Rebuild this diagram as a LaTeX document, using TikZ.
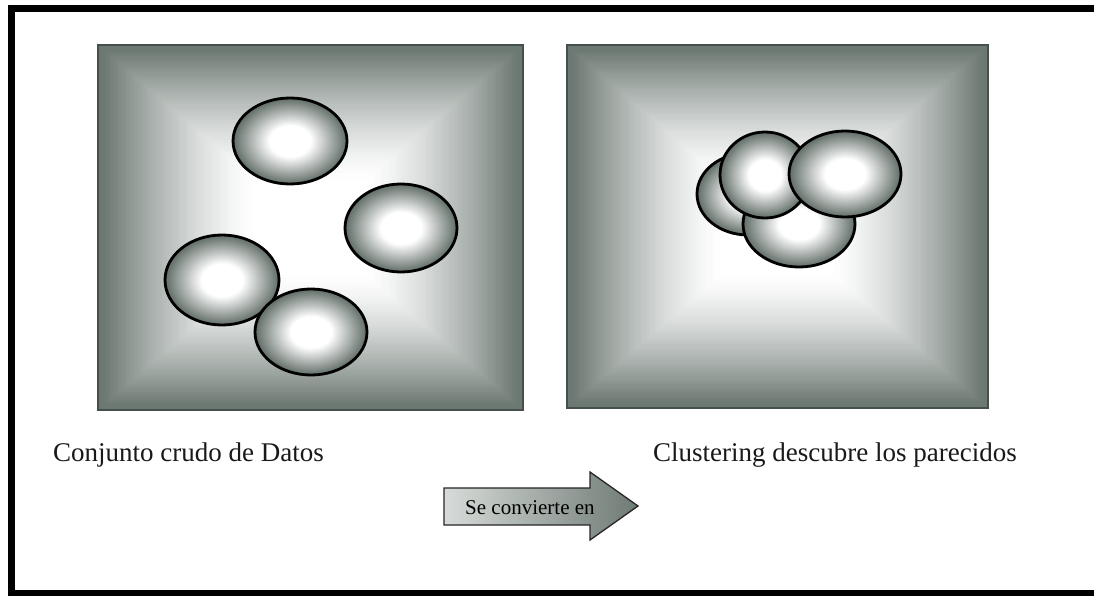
\documentclass[tikz,border=0pt]{standalone}
\usepackage{fontspec}
\setmainfont{Liberation Serif}
\definecolor{panelDark}{RGB}{108,120,114}
\definecolor{panelEdge}{RGB}{70,80,75}
\definecolor{blobDark}{RGB}{96,108,102}
\definecolor{arrowLight}{RGB}{215,220,217}
\definecolor{arrowDark}{RGB}{110,122,116}
\pgfdeclareradialshading{blobshade}{\pgfpoint{0bp}{0bp}}{color(0bp)=(white); color(9bp)=(white); color(25bp)=(blobDark); color(50bp)=(blobDark)}
\tikzset{
  blob/.style={draw=black, line width=2.8, shading=blobshade},
  caption/.style={anchor=base west, font=\fontsize{27}{32}\selectfont, text=black!90, inner sep=0},
  arrowtext/.style={anchor=base west, font=\fontsize{21}{25}\selectfont, text=black, inner sep=0},
  frameline/.style={line width=7, draw=black}
}
\newcommand{\gradpanel}[4]{%
  \foreach \i in {0,...,79}{%
    \pgfmathsetmacro\tt{\i/80}%
    \pgfmathsetmacro\ss{max(0,min(1,(\tt-0.02)/0.72))}%
    \pgfmathsetmacro\pp{100*(1-\ss)^1.4}%
    \pgfmathsetmacro\ddx{\tt*(#3-#1)/2}%
    \pgfmathsetmacro\ddy{\tt*(#4-#2)/2}%
    \fill[panelDark!\pp!white] (#1+\ddx,#2+\ddy) rectangle (#3-\ddx,#4-\ddy);
  }%
  \draw[line width=1.5, panelEdge] (#1,#2) rectangle (#3,#4);
}
\begin{document}
\begin{tikzpicture}[x=1pt,y=-1pt]
\useasboundingbox (0,0) rectangle (1094,596);
\fill[white] (0,0) rectangle (1094,596);
% outer frame (open on the right)
\draw[frameline] (1094,9) -- (11,9) -- (11,593) -- (1094,593);

% left panel
\gradpanel{98}{45}{523}{410}
\draw[blob] (290,141) ellipse [x radius=57, y radius=43];
\draw[blob] (401,228) ellipse [x radius=56, y radius=44];
\draw[blob] (222,280) ellipse [x radius=57, y radius=45];
\draw[blob] (311,332) ellipse [x radius=56, y radius=43];

% right panel
\gradpanel{567}{45}{988}{408}
\draw[blob] (748,194) ellipse [x radius=51, y radius=41];
\draw[blob] (799,224) ellipse [x radius=56, y radius=43];
\draw[blob] (765,175) ellipse [x radius=45, y radius=43];
\draw[blob] (845,174) ellipse [x radius=56, y radius=43];

% captions
\node[caption] (raw) at (53,461) {Conjunto crudo de Datos};
\node[caption] (clus) at (653,461) {Clustering descubre los parecidos};

% arrow
\draw[line width=1.3, draw=black!85, left color=arrowLight, right color=arrowDark]
  (444,488) -- (590,488) -- (590,472) -- (638,506) -- (590,540) -- (590,525) -- (444,525) -- cycle;
\node[arrowtext] (conv) at (465,514) {Se convierte en};
\end{tikzpicture}
\end{document}
